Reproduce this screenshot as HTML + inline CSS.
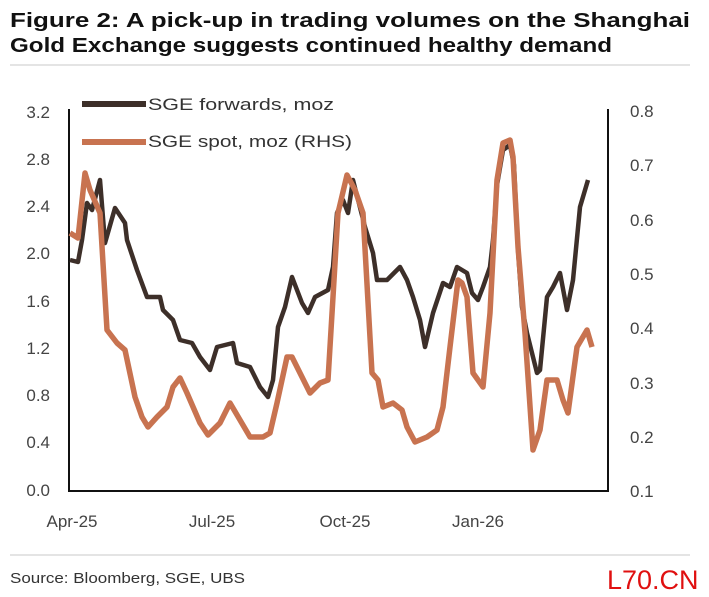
<!DOCTYPE html>
<html><head><meta charset="utf-8"><style>
body{margin:0;background:#fff;width:709px;height:592px;overflow:hidden;font-family:"Liberation Sans",sans-serif}
</style></head><body>
<svg width="709" height="592" viewBox="0 0 709 592" xmlns="http://www.w3.org/2000/svg">
<text x="10" y="27" font-size="20" font-weight="bold" fill="#111" textLength="680" lengthAdjust="spacingAndGlyphs">Figure 2: A pick-up in trading volumes on the Shanghai</text>
<text x="10" y="52" font-size="20" font-weight="bold" fill="#111" textLength="602" lengthAdjust="spacingAndGlyphs">Gold Exchange suggests continued healthy demand</text>
<line x1="10" y1="65" x2="690" y2="65" stroke="#e4e4e4" stroke-width="2"/>
<g font-size="17" fill="#444">
<g text-anchor="end">
<text x="50" y="118">3.2</text><text x="50" y="165">2.8</text><text x="50" y="212">2.4</text><text x="50" y="259">2.0</text><text x="50" y="307">1.6</text><text x="50" y="354">1.2</text><text x="50" y="401">0.8</text><text x="50" y="448">0.4</text><text x="50" y="496">0.0</text>
</g>
<text x="630" y="117">0.8</text><text x="630" y="171">0.7</text><text x="630" y="226">0.6</text><text x="630" y="280">0.5</text><text x="630" y="334">0.4</text><text x="630" y="389">0.3</text><text x="630" y="443">0.2</text><text x="630" y="497">0.1</text>
<g text-anchor="middle">
<text x="72" y="527">Apr-25</text><text x="212" y="527">Jul-25</text><text x="345" y="527">Oct-25</text><text x="478" y="527">Jan-26</text>
</g>
<text x="148" y="110" fill="#333" textLength="186" lengthAdjust="spacingAndGlyphs">SGE forwards, moz</text>
<text x="148" y="147" fill="#333" textLength="204" lengthAdjust="spacingAndGlyphs">SGE spot, moz (RHS)</text>
</g>
<line x1="82" y1="104" x2="146" y2="104" stroke="#3d2f29" stroke-width="6"/>
<line x1="82" y1="142" x2="146" y2="142" stroke="#c87350" stroke-width="6"/>
<polyline fill="none" stroke="#111" stroke-width="2" points="69,109 69,491 608,491 608,109"/>
<polyline fill="none" stroke="#3d2f29" stroke-width="4.5" stroke-linejoin="round" points="70,260 78,262 82,240 87,203 92,210 100,180 105,243 115,208 125,223 127,240 137,270 147,297 160,297 163,310 173,320 180,340 192,343 200,357 210,370 217,347 233,343 237,363 250,367 260,387 268,397 273,380 278,327 285,307 292,277 302,303 308,313 315,297 328,290 333,267 337,213 343,200 348,213 353,180 365,227 373,253 377,280 387,280 400,267 407,280 413,297 420,320 425,347 433,313 443,283 450,287 457,267 467,273 472,293 478,300 483,287 490,267 493,240 497,185 503,150 510,145 514,165 518,250 522,307 527,333 537,373 540,370 547,297 553,287 560,273 567,310 573,280 580,207 588,180"/>
<polyline fill="none" stroke="#c87350" stroke-width="5.5" stroke-linejoin="round" points="70,233 78,238 85,173 90,190 100,213 107,330 117,343 125,350 135,397 142,417 148,427 157,417 167,407 173,387 180,378 187,393 200,423 208,435 220,423 230,403 240,420 250,437 263,437 270,433 277,403 287,357 292,357 302,377 310,393 320,383 328,380 333,297 338,213 347,175 355,190 363,213 372,373 378,380 383,407 393,403 402,410 407,427 415,442 427,437 437,430 443,407 450,347 458,280 462,283 467,297 473,373 483,387 490,313 497,180 503,143 510,140 513,157 518,247 525,333 533,450 540,430 547,380 557,380 563,400 568,413 577,347 587,330 592,347"/>
<line x1="10" y1="555" x2="690" y2="555" stroke="#e4e4e4" stroke-width="2"/>
<text x="10" y="583" font-size="15" fill="#333" textLength="235" lengthAdjust="spacingAndGlyphs">Source: Bloomberg, SGE, UBS</text>
<text x="607" y="589" font-size="27" fill="#e01010">L70.CN</text>
</svg>
</body></html>
